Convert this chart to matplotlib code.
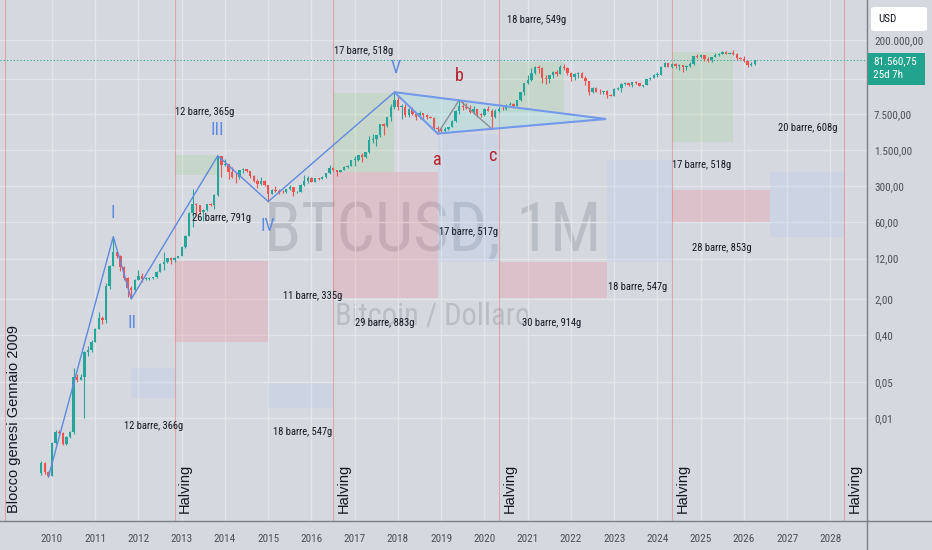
import numpy as np
import matplotlib
matplotlib.use('Agg')
import matplotlib.pyplot as plt
from matplotlib import font_manager
from matplotlib.patches import Rectangle, Polygon, FancyBboxPatch
from matplotlib.lines import Line2D
import matplotlib.transforms as mtransforms

# ---------------- data (monthly BTCUSD, from Oct 2009) ----------------
START_YEAR, START_MONTH = 2009, 10
FIRST_OPEN = 0.00087
CLOSE = [
    0.00136, 0.0009, 0.00078,                                                   # 2009
    0.0033, 0.0054, 0.0052, 0.0032, 0.0043, 0.0054, 0.062, 0.055, 0.062, 0.19, 0.21, 0.30,  # 2010
    0.52, 0.86, 0.78, 3.5, 8.7, 16.1, 13.4, 8.2, 5.1, 3.2, 3.0, 4.7,            # 2011
    5.5, 4.9, 4.9, 5.0, 5.2, 6.7, 9.4, 10.2, 12.4, 11.2, 12.6, 13.5,            # 2012
    20.4, 33.4, 93, 139, 129, 97, 106, 135, 133, 204, 1130, 757,                # 2013
    800, 570, 457, 447, 628, 640, 586, 478, 386, 338, 378, 320,                 # 2014
    217, 254, 244, 236, 230, 263, 285, 230, 236, 314, 377, 430,                 # 2015
    368, 437, 416, 448, 531, 673, 624, 573, 608, 700, 742, 964,                 # 2016
    970, 1190, 1080, 1348, 2300, 2480, 2875, 4703, 4338, 6468, 10233, 14156,    # 2017
    10221, 10397, 6973, 9240, 7494, 6404, 7780, 7037, 6625, 6371, 4017, 3742,   # 2018
    3457, 3854, 4105, 5350, 8574, 10817, 10085, 9630, 8293, 9199, 7569, 7193,   # 2019
    9350, 8599, 6424, 8624, 9454, 9135, 11351, 11655, 10779, 13805, 19713, 28990,  # 2020
    33114, 45137, 58918, 57750, 37332, 35040, 41626, 47166, 43790, 61318, 57005, 46306,  # 2021
    38483, 43194, 45538, 37714, 31792, 19784, 23336, 20050, 19431, 20495, 17168, 16547,  # 2022
    23139, 23147, 28478, 29268, 27219, 30477, 29230, 25931, 26967, 34667, 37712, 42265,  # 2023
    42582, 61198, 71333, 60636, 67491, 62678, 64619, 58969, 63329, 70215, 96449, 93429,  # 2024
    102405, 84373, 82548, 94207, 104638, 107135, 115758, 108236, 114056, 109556, 90394, 87500,  # 2025
    78600, 66000, 68500, 81560.75,                                              # 2026
]
HIGH = [
    0.0015, 0.0014, 0.00095,
    0.0035, 0.006, 0.0058, 0.0053, 0.0045, 0.0056, 0.093, 0.07, 0.07, 0.20, 0.25, 0.32,
    0.55, 1.1, 0.95, 4.0, 9.0, 31.9, 16.5, 14.1, 8.6, 5.2, 3.6, 4.9,
    7.4, 6.4, 5.4, 5.2, 5.3, 6.8, 9.7, 16.4, 12.6, 13.0, 12.7, 13.8,
    20.7, 33.8, 95.7, 266, 140, 130, 111, 136, 145, 215, 1163, 1150,
    1000, 760, 710, 540, 630, 680, 650, 600, 490, 420, 460, 390,
    320, 265, 300, 260, 250, 268, 318, 285, 245, 325, 500, 465,
    460, 440, 440, 470, 550, 780, 700, 630, 615, 725, 760, 980,
    1150, 1200, 1300, 1355, 2790, 3000, 2950, 4750, 5000, 6470, 11400, 19666,
    17200, 11800, 11700, 9750, 10000, 7780, 8500, 7770, 7400, 6800, 6550, 4300,
    4080, 4200, 4150, 5650, 9000, 13880, 13200, 12300, 10950, 10400, 9500, 7750,
    9600, 10500, 9200, 9470, 10080, 10400, 11450, 12480, 12100, 14100, 19900, 29300,
    41950, 58350, 61800, 64800, 59600, 41300, 42300, 50500, 52900, 67000, 69000, 59100,
    47900, 45800, 48200, 47450, 39900, 31900, 24700, 25200, 22800, 21000, 21450, 18400,
    23900, 25250, 29200, 31000, 29850, 31400, 31800, 30200, 27500, 35000, 38400, 44700,
    48950, 64000, 73800, 72700, 71950, 71900, 70000, 65100, 66500, 73600, 99600, 108300,
    109350, 102500, 95000, 95700, 111900, 110500, 123200, 124400, 117900, 126200, 111000, 94600,
    97900, 79500, 74000, 82500,
]
LOW = [
    0.0008, 0.00085, 0.00073,
    0.00075, 0.0032, 0.005, 0.003, 0.003, 0.0042, 0.005, 0.05, 0.055, 0.01, 0.16, 0.19,
    0.29, 0.52, 0.67, 0.7, 3.1, 8.5, 12.6, 6.8, 4.6, 2.2, 2.0, 2.8,
    4.6, 4.3, 4.6, 4.7, 4.9, 5.1, 6.5, 7.1, 9.9, 9.5, 10.4, 12.4,
    13.3, 19.6, 33.3, 50, 80, 88, 65, 98, 124, 109, 198, 450,
    740, 420, 440, 340, 420, 550, 570, 440, 370, 275, 320, 300,
    152, 210, 236, 215, 225, 220, 255, 195, 225, 235, 310, 350,
    355, 365, 400, 410, 440, 525, 600, 470, 570, 605, 690, 745,
    750, 915, 880, 1060, 1340, 2080, 1800, 2700, 2950, 4100, 5550, 9500,
    9000, 5900, 6450, 6430, 7000, 5750, 6070, 5880, 6100, 6200, 3600, 3122,
    3350, 3400, 3700, 4100, 5330, 7450, 9080, 9350, 7700, 7300, 6550, 6430,
    6870, 8450, 3850, 6150, 8100, 8900, 8980, 10950, 9900, 10400, 13200, 17600,
    28100, 32300, 44950, 47000, 30000, 28800, 29300, 37300, 39600, 43300, 53250, 42000,
    32900, 34300, 37200, 37500, 26700, 17600, 18800, 19600, 18150, 18200, 15500, 16300,
    16500, 21350, 19550, 26900, 25800, 24800, 28900, 25400, 24900, 26950, 34100, 37600,
    38550, 41900, 59000, 59200, 56550, 58450, 53500, 49000, 52600, 58900, 66800, 90500,
    89200, 78250, 76600, 74500, 93400, 98200, 105100, 107400, 107300, 103500, 80600, 84400,
    74500, 60000, 63000, 66000,
]
LAST_PRICE = 81560.75
COUNTDOWN = "25d 7h"

YEARS = list(range(2010, 2029))
PRICE_TICKS = [0.01, 0.05, 0.40, 2, 12, 60, 300, 1500, 7500, 200000]
EXTRA_GRID = [35000]

# Elliott waves
WAVE_X = [2009.917, 2011.417, 2011.833, 2013.833, 2015.0, 2017.917]
WAVE_Y = [0.00073, 31.9, 2.0, 1163, 152, 19666]
WAVE_LABELS = [("I", 2011.41, 91), ("II", 2011.85, 0.69), ("III", 2013.82, 3660),
               ("IV", 2014.99, 51), ("V", 2017.95, 57500)]
ABC_X = [2017.917, 2018.917, 2019.417, 2020.167]
ABC_Y = [19666, 3122, 13880, 3850]
ABC_LABELS = [("a", 2018.92, 965), ("b", 2019.41, 40400), ("c", 2020.17, 1153)]
TRI_X = [2017.917, 2018.917, 2022.81]
TRI_Y = [19666, 3122, 5970]

# halving / genesis markers
HALVINGS = [2012.833, 2016.5, 2020.333, 2024.33, 2028.31]
GENESIS = 2008.917

# date range boxes: (x0, x1, y0, y1, kind)
BOXES = [
    (2012.833, 2013.833, 490, 1205, "g"),
    (2012.833, 2015.0, 0.30, 10.8, "r"),
    (2011.833, 2012.833, 0.0245, 0.093, "b"),
    (2015.0, 2016.5, 0.0157, 0.048, "b"),
    (2016.5, 2017.917, 566, 18960, "g"),
    (2016.5, 2018.917, 2.09, 566, "r"),
    (2018.917, 2020.333, 10.35, 3062, "b"),
    (2020.333, 2021.833, 8150, 75200, "g"),
    (2020.333, 2022.833, 2.09, 10.35, "r"),
    (2022.833, 2024.33, 10.35, 965, "b"),
    (2024.33, 2025.75, 2150, 117300, "g"),
    (2024.33, 2026.6, 61.3, 254, "r"),
    (2026.6, 2028.31, 31.5, 566, "b"),
]
BOX_LABELS = [
    (2013.54, 8150, "12 barre, 365g"),
    (2013.91, 73, "26 barre, 791g"),
    (2012.34, 0.0071, "12 barre, 366g"),
    (2015.80, 0.0054, "18 barre, 547g"),
    (2016.03, 2.29, "11 barre, 335g"),
    (2017.21, 122700, "17 barre, 518g"),
    (2017.70, 0.69, "29 barre, 883g"),
    (2019.62, 39.3, "17 barre, 517g"),
    (2021.56, 0.69, "30 barre, 914g"),
    (2021.21, 486000, "18 barre, 549g"),
    (2023.55, 3.41, "18 barre, 547g"),
    (2025.03, 773, "17 barre, 518g"),
    (2025.49, 19.3, "28 barre, 853g"),
    (2027.48, 4000, "20 barre, 608g"),
]

# ---------------- style ----------------
names = {f.name for f in font_manager.fontManager.ttflist}
NARROW = next((n for n in ["Liberation Sans Narrow", "Roboto Condensed", "Liberation Sans", "DejaVu Sans"] if n in names), "DejaVu Sans")
REG = next((n for n in ["Liberation Sans", "Roboto", "DejaVu Sans"] if n in names), "DejaVu Sans")

BG = "#d5d8de"
GRID = "#e3e5e9"
UP = "#26a69a"
DOWN = "#ef5350"
TXT = "#131722"
AXTXT = "#4c4f58"
SEP = "#7c8088"
WAVE_BLUE = "#6089e0"
ABC_RED = "#b5202c"
BOX_COL = {"g": (0.54, 0.81, 0.44, 0.18), "r": (0.95, 0.47, 0.53, 0.24), "b": (0.63, 0.77, 1.0, 0.16)}

W, H = 932, 550
AX_R, AX_B = 867, 521
fig = plt.figure(figsize=(W / 100, H / 100), dpi=100)
fig.patch.set_facecolor(BG)
ax = fig.add_axes([0, (H - AX_B) / H, AX_R / W, AX_B / H])
ax.set_facecolor(BG)
ax.set_yscale("log")
ax.set_xlim(2008.798, 2028.844)
ax.set_ylim(10 ** -3.985, 10 ** 6.073)

# grid
ax.set_xticks(YEARS)
ax.set_xticklabels([str(y) for y in YEARS], fontsize=8, family=NARROW, color=AXTXT)
ax.yaxis.tick_right()
ax.set_yticks(PRICE_TICKS)
ax.yaxis.set_minor_locator(matplotlib.ticker.NullLocator())


def it_fmt(v):
    s = f"{v:,.2f}"
    return s.replace(",", "X").replace(".", ",").replace("X", ".")


ax.set_yticklabels([it_fmt(v) for v in PRICE_TICKS], fontsize=8, family=NARROW, color=AXTXT)
ax.tick_params(axis="both", length=0)
ax.tick_params(axis="x", pad=9)
ax.tick_params(axis="y", pad=5)
ax.grid(True, color=GRID, lw=1.0, zorder=0)
ax.set_axisbelow(True)
for v in EXTRA_GRID:
    ax.axhline(v, color=GRID, lw=1.0, zorder=0.2)
for s in ["top", "left"]:
    ax.spines[s].set_visible(False)
for s in ["right", "bottom"]:
    ax.spines[s].set_color(SEP)
    ax.spines[s].set_linewidth(1.0)
fig.add_artist(Line2D([AX_R / W, 1], [(H - AX_B) / H] * 2, transform=fig.transFigure, color=SEP, lw=1.0))
fig.add_artist(Line2D([AX_R / W] * 2, [0, (H - AX_B) / H], transform=fig.transFigure, color=SEP, lw=1.0))

# watermark
ax.text(0.499, 0.555, "BTCUSD, 1M", transform=ax.transAxes, fontsize=49, family=NARROW,
        color="#b9bdc5", ha="center", va="center", zorder=0.3)
ax.text(0.499, 0.393, "Bitcoin / Dollaro", transform=ax.transAxes, fontsize=22, family=NARROW,
        color="#b9bdc5", ha="center", va="center", zorder=0.3)

# boxes
for x0, x1, y0, y1, k in BOXES:
    ax.add_patch(Rectangle((x0, y0), x1 - x0, y1 - y0, facecolor=BOX_COL[k], edgecolor="none", zorder=0.6))

# halving lines + text
trans_x = mtransforms.blended_transform_factory(ax.transData, ax.transAxes)
for xh in HALVINGS:
    ax.axvline(xh, color="#e57373", lw=0.8, alpha=0.5, zorder=0.7)
    t = mtransforms.offset_copy(trans_x, fig=fig, x=3.5, y=0, units="dots")
    ax.text(xh, 0.0155, "Halving", transform=t, rotation=90, ha="left", va="bottom",
            fontsize=10.5, family=REG, color=TXT, zorder=5)
ax.axvline(GENESIS, color="#e57373", lw=0.8, alpha=0.5, zorder=0.7)
t = mtransforms.offset_copy(trans_x, fig=fig, x=2.0, y=0, units="dots")
ax.text(GENESIS, 0.0155, "Blocco genesi Gennaio 2009", transform=t, rotation=90, ha="left", va="bottom",
        fontsize=10.5, family=REG, color=TXT, zorder=5)

# triangle fill
tri = Polygon(list(zip(TRI_X, np.array(TRI_Y, dtype=float))), closed=True,
              facecolor=(0.60, 0.90, 0.88, 0.30), edgecolor="none", zorder=1.5)
ax.add_patch(tri)

# candles
n = len(CLOSE)
xs = START_YEAR + (START_MONTH - 1) / 12 + np.arange(n) / 12
closes = np.array(CLOSE, dtype=float)
opens = np.concatenate([[FIRST_OPEN], closes[:-1]])
highs = np.array(HIGH, dtype=float)
lows = np.array(LOW, dtype=float)
colors = np.where(closes >= opens, UP, DOWN)
ax.vlines(xs, lows, highs, colors=colors, lw=0.8, zorder=3)
bot = np.minimum(opens, closes)
top = np.maximum(np.maximum(opens, closes), bot * 1.025)
ax.bar(xs, top - bot, bottom=bot, width=0.055, color=colors, edgecolor="none", zorder=3.2)

# last price line
ax.axhline(LAST_PRICE, color=UP, lw=0.8, ls=(0, (1, 2)), zorder=2.5)

# wave lines
ax.plot(WAVE_X, WAVE_Y, color=WAVE_BLUE, lw=1.0, zorder=4)
ax.plot(ABC_X[1:], ABC_Y[1:], color="#8a8e97", lw=1.0, zorder=4)
ax.add_patch(Polygon(list(zip(TRI_X, np.array(TRI_Y, dtype=float))), closed=True,
                     facecolor="none", edgecolor="#7499ea", lw=1.5, zorder=4.2))
for s, x, y in WAVE_LABELS:
    ax.text(x, y, s, fontsize=13, family=NARROW, color=WAVE_BLUE, ha="center", va="center", zorder=5)
for s, x, y in ABC_LABELS:
    ax.text(x, y, s, fontsize=13, family=NARROW, color=ABC_RED, ha="center", va="center", zorder=5)

for x, y, s in BOX_LABELS:
    ax.text(x, y, s, fontsize=7.6, family=NARROW, color=TXT, ha="center", va="center", zorder=5)

# right side: USD box + price badge
fig.add_artist(FancyBboxPatch((871 / W, 1 - 31 / H), 56 / W, 24 / H, boxstyle="round,pad=0,rounding_size=0.004",
                              transform=fig.transFigure, facecolor="white", edgecolor="none"))
fig.text(878 / W, 1 - 18.5 / H, "USD", fontsize=8, family=NARROW, color=TXT, ha="left", va="center")
fig.add_artist(Rectangle((868 / W, 1 - 85 / H), 57 / W, 32 / H, transform=fig.transFigure,
                         facecolor="#22a38e", edgecolor="none"))
fig.text(873 / W, 1 - 61 / H, it_fmt(LAST_PRICE), fontsize=8, family=NARROW, color="white", ha="left", va="center")
fig.text(873 / W, 1 - 75 / H, COUNTDOWN, fontsize=8, family=NARROW, color="white", ha="left", va="center")

fig.savefig("out.png", dpi=100, facecolor=BG)
